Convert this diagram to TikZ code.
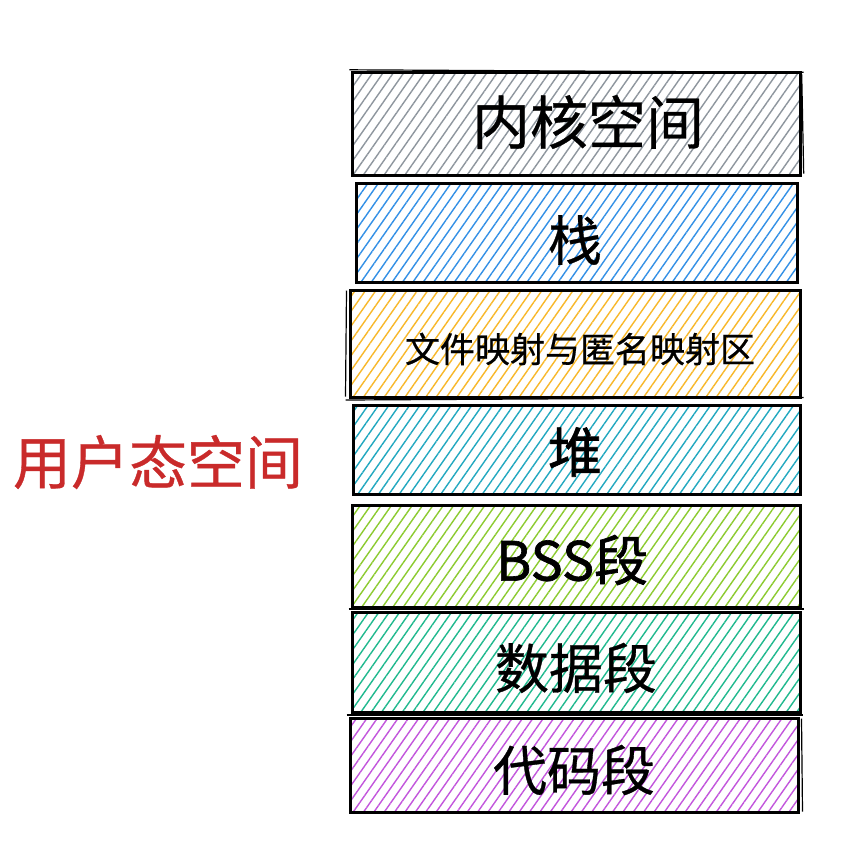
\documentclass[tikz,border=0pt]{standalone}
\usepackage{fontspec}
\newfontfamily\cjk[FakeBold=0.6]{Noto Sans CJK SC}
\newfontfamily\cjkb[FakeBold=1.2]{Noto Sans CJK SC}
\usetikzlibrary{patterns.meta}
\definecolor{hgray}{HTML}{8E969E}
\definecolor{hblue}{HTML}{3390E6}
\definecolor{hyellow}{HTML}{F8B82A}
\definecolor{hcyan}{HTML}{22A8C0}
\definecolor{hlime}{HTML}{8CCB30}
\definecolor{hteal}{HTML}{20B98E}
\definecolor{hgrape}{HTML}{C256DC}
\definecolor{ured}{HTML}{C92A2A}
\tikzset{
  seg/.style={draw=black, line width=3pt, inner sep=0pt,
    pattern={Lines[angle=55,distance=8.5pt,line width=1.4pt]}, pattern color=#1},
  seglabel/.style={font=\cjk\fontsize{54}{60}\selectfont, text=black, inner sep=0pt},
  sketch/.style={line width=1.2pt},
}
\begin{document}
\begin{tikzpicture}[x=1pt,y=-1pt]
\useasboundingbox (0,0) rectangle (844,857);
\fill[white] (0,0) rectangle (844,857);
% boxes
\node[seg=hgray, minimum width=448pt, minimum height=103pt] (b1) at (576,123.5) {};
\node[seg=hblue, minimum width=441pt, minimum height=99pt] (b2) at (576.5,232.5) {};
\node[seg=hyellow, minimum width=450pt, minimum height=107pt] (b3) at (575,343.5) {};
\node[seg=hcyan, minimum width=447pt, minimum height=89pt] (b4) at (576.5,449.5) {};
\node[seg=hlime, minimum width=448pt, minimum height=102pt] (b5) at (576,556) {};
\node[seg=hteal, minimum width=448pt, minimum height=100pt] (b6) at (576,662) {};
\node[seg=hgrape, minimum width=448pt, minimum height=94pt] (b7) at (574,765) {};
% sketchy second strokes
\draw[sketch] ([xshift=-2pt,yshift=1.5pt]b1.north west) -- ([xshift=3pt,yshift=-1pt]b1.north east);
\draw[sketch] ([xshift=1pt,yshift=-3pt]b1.north east) -- ([xshift=3pt,yshift=2pt]b1.south east);
\draw[sketch] ([xshift=-3pt,yshift=-1.5pt]b3.south west) -- ([xshift=2pt,yshift=1pt]b3.south east);
\draw[sketch] ([xshift=-2pt,yshift=-2pt]b3.north west) -- ([xshift=-3pt,yshift=2pt]b3.south west);
\draw[sketch] ([xshift=-2pt,yshift=1.5pt]b6.north west) -- ([xshift=2pt,yshift=1.5pt]b6.north east);
\draw[sketch] ([xshift=-2pt,yshift=1.5pt]b7.north west) -- ([xshift=3pt,yshift=1.5pt]b7.north east);
\draw[sketch] ([xshift=2pt,yshift=-2pt]b7.north east) -- ([xshift=3pt,yshift=2pt]b7.south east);
% labels
\node[seglabel, font=\cjk\fontsize{58}{64}\selectfont] (t1) at (588,122) {内核空间};
\node[seglabel] (t2) at (575,240) {栈};
\node[seglabel, font=\cjk\fontsize{35}{40}\selectfont] (t3) at (580,349) {文件映射与匿名映射区};
\node[seglabel, font=\cjkb\fontsize{54}{60}\selectfont] (t4) at (575,452) {堆};
\node[seglabel, font=\cjkb\fontsize{54}{60}\selectfont] (t5) at (572,560) {BSS段};
\node[seglabel] (t6) at (576,668) {数据段};
\node[seglabel] (t7) at (574,770) {代码段};
\node[font=\cjk\fontsize{58}{64}\selectfont, text=ured, inner sep=0pt] (user) at (158,462) {用户态空间};
\end{tikzpicture}
\end{document}
